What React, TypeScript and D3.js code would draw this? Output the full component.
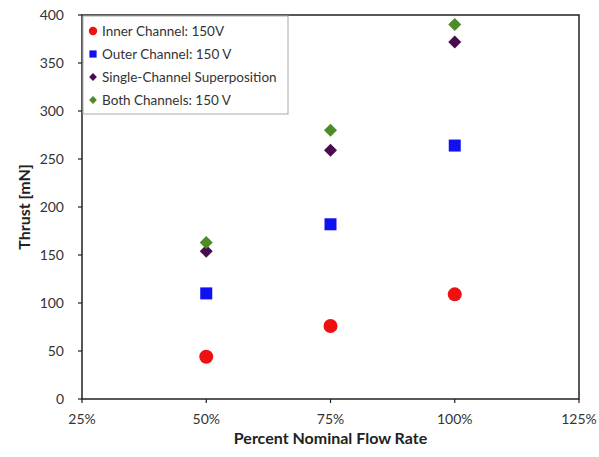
import React from "react";
import * as d3 from "d3";

const flowRates = [0.5, 0.75, 1.0];
const innerChannel = [44, 76, 109];
const outerChannel = [110, 182, 264];
const superposition = [154, 259, 372];
const bothChannels = [163, 280, 390];
const xTicks = [0.25, 0.5, 0.75, 1.0, 1.25];
const yTicks = [0, 50, 100, 150, 200, 250, 300, 350, 400];
const seriesNames = [
  "Inner Channel: 150V",
  "Outer Channel: 150 V",
  "Single-Channel Superposition",
  "Both Channels: 150 V",
];

const W = 599;
const H = 457;
const M = { left: 82, right: 20, top: 15, bottom: 58 };
const FONT = "Lato, 'Open Sans', sans-serif";

export default function App() {
  const x = d3.scaleLinear().domain([0.25, 1.25]).range([M.left, W - M.right]);
  const y = d3.scaleLinear().domain([0, 400]).range([H - M.bottom, M.top]);
  const fmt = d3.format(".0%");
  const dp = d3.path();
  dp.moveTo(0, -6.5);
  dp.lineTo(6.5, 0);
  dp.lineTo(0, 6.5);
  dp.lineTo(-6.5, 0);
  dp.closePath();
  const diamond = dp.toString();

  const series = [
    { name: seriesNames[0], vals: innerChannel, color: "#f01010", kind: "circle" },
    { name: seriesNames[1], vals: outerChannel, color: "#1010f0", kind: "square" },
    { name: seriesNames[2], vals: superposition, color: "#4a0c4e", kind: "diamond" },
    { name: seriesNames[3], vals: bothChannels, color: "#4f8a2c", kind: "diamond" },
  ];

  const marker = (kind: string, color: string, cx: number, cy: number, scale = 1) => {
    if (kind === "circle") return <circle cx={cx} cy={cy} r={7 * scale} fill={color} />;
    if (kind === "square")
      return <rect x={cx - 6 * scale} y={cy - 6 * scale} width={12 * scale} height={12 * scale} fill={color} />;
    return <path d={diamond} transform={`translate(${cx},${cy}) scale(${scale})`} fill={color} />;
  };

  const x0 = M.left;
  const x1 = W - M.right;
  const y0 = H - M.bottom;
  const y1 = M.top;

  return (
    <svg width={W} height={H} style={{ position: "absolute", left: 0, top: 0, background: "#fff" }}>
      <rect x={0} y={0} width={W} height={H} fill="#fff" />
      {series.map((s, si) => (
        <g key={si}>
          {s.vals.map((v, i) => (
            <g key={i}>{marker(s.kind, s.color, x(flowRates[i]), y(v))}</g>
          ))}
        </g>
      ))}
      <rect x={x0} y={y1} width={x1 - x0} height={y0 - y1} fill="none" stroke="#222" strokeWidth={1.5} />
      {yTicks.map((t) => (
        <g key={t}>
          <line x1={x0 - 4} x2={x0} y1={y(t)} y2={y(t)} stroke="#222" strokeWidth={1.2} />
          <text x={x0 - 18} y={y(t)} dy="0.35em" textAnchor="end" fontFamily={FONT} fontSize={14} fill="#333">
            {t}
          </text>
        </g>
      ))}
      {xTicks.map((t) => (
        <g key={t}>
          <line x1={x(t)} x2={x(t)} y1={y0} y2={y0 + 4} stroke="#222" strokeWidth={1.2} />
          <text x={x(t)} y={y0 + 25} textAnchor="middle" fontFamily={FONT} fontSize={14} fill="#333">
            {fmt(t)}
          </text>
        </g>
      ))}
      <text
        transform={`translate(30,${(y0 + y1) / 2}) rotate(-90)`}
        textAnchor="middle"
        fontFamily={FONT}
        fontWeight="bold"
        fontSize={16}
        fill="#222"
      >
        Thrust [mN]
      </text>
      <text x={(x0 + x1) / 2} y={y0 + 45} textAnchor="middle" fontFamily={FONT} fontWeight="bold" fontSize={16} fill="#222">
        Percent Nominal Flow Rate
      </text>
      <rect x={x0 + 1} y={y1 + 1} width={205} height={98} fill="#fff" stroke="#aaa" strokeWidth={1} />
      {series.map((s, i) => {
        const ly = y1 + 16 + i * 23;
        return (
          <g key={s.name}>
            {marker(s.kind, s.color, x0 + 11, ly, 0.6)}
            <text x={x0 + 20} y={ly} dy="0.35em" fontFamily={FONT} fontSize={13.5} fill="#333">
              {s.name}
            </text>
          </g>
        );
      })}
    </svg>
  );
}
